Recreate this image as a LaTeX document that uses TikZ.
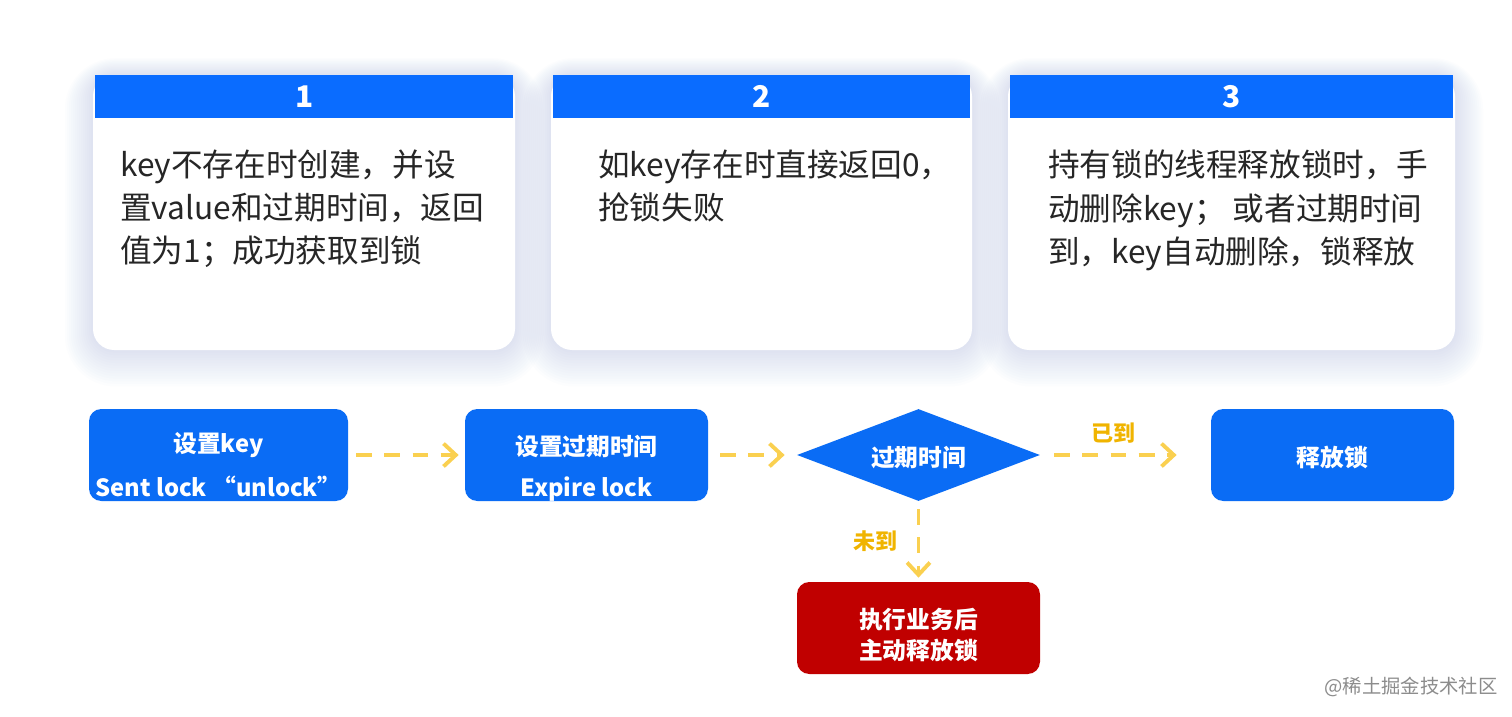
\documentclass[tikz,border=0pt]{standalone}
\usepackage{fontspec}
\setmainfont{Noto Sans CJK SC}
\usetikzlibrary{shapes.geometric,arrows.meta,calc}
\definecolor{hblue}{HTML}{0A6CFF}
\definecolor{bblue}{HTML}{0A6CF5}
\definecolor{dred}{HTML}{C00000}
\definecolor{arr}{HTML}{FAD050}
\definecolor{lab}{HTML}{F0B400}
\definecolor{glow}{HTML}{8FA8E8}
\begin{document}
\begin{tikzpicture}[x=0.02cm,y=-0.02cm,
  hdr/.style={fill=hblue,draw=none,text=white,font=\fontsize{17}{20}\selectfont\bfseries},
  ctext/.style={anchor=north west,align=left,font=\fontsize{18}{24.5}\selectfont,text=black!85},
  fbox/.style={fill=bblue,draw=none,rounded corners=7pt,text=white,align=center,inner sep=0pt,font=\fontsize{13.5}{24.5}\selectfont\bfseries},
  flow/.style={arr,line width=2.2pt,dash pattern=on 9pt off 7pt,-{Straight Barb[length=7pt,width=13pt,line width=2.2pt]}},
  ylab/.style={text=lab,font=\fontsize{12.5}{14}\selectfont\bfseries}]
\useasboundingbox (0,0) rectangle (1512,717);
\fill[white] (0,0) rectangle (1512,717);
% glow shadows
\foreach \xa/\xb in {93/515,551/972,1008/1455}{
  \foreach \g in {1,...,14}{
    \fill[glow,opacity=0.018,rounded corners=12pt+\g*1.2pt] (\xa-\g*2,75-\g*1.2) rectangle (\xb+\g*2,350+\g*2.6);
  }
}
% cards
\foreach \xa/\xb in {93/515,551/972,1008/1455}{
  \fill[white,rounded corners=12pt] (\xa,75) rectangle (\xb,350);
}
\node[hdr,minimum width=418*0.02cm,minimum height=43*0.02cm,anchor=north west] (h1) at (95,75) {1};
\node[hdr,minimum width=417*0.02cm,minimum height=43*0.02cm,anchor=north west] (h2) at (553,75) {2};
\node[hdr,minimum width=443*0.02cm,minimum height=43*0.02cm,anchor=north west] (h3) at (1010,75) {3};
\node[ctext] (t1) at (114,144) {key不存在时创建，并设\\置value和过期时间，返回\\值为1；成功获取到锁};
\node[ctext] (t2) at (592,144) {如key存在时直接返回0，\\抢锁失败};
\node[ctext] (t3) at (1042,144) {持有锁的线程释放锁时，手\\动删除key； 或者过期时间\\到，key自动删除，锁释放};
% flow
\node[fbox,minimum width=259*0.02cm,minimum height=92*0.02cm] (b1) at (218.5,455) {\raisebox{-23.5pt}[0pt][0pt]{\shortstack{设置key\\[7.5pt]Sent lock “unlock”}}};
\node[fbox,minimum width=243*0.02cm,minimum height=92*0.02cm] (b2) at (586.5,455) {\raisebox{-23.5pt}[0pt][0pt]{\shortstack{设置过期时间\\[7.5pt]Expire lock}}};
\node[diamond,fill=bblue,draw=none,aspect=2.64,minimum width=243*0.02cm,minimum height=92*0.02cm,inner sep=0pt,text=white,font=\fontsize{13.5}{16}\selectfont\bfseries] (d) at (918.5,455) {\raisebox{-6.5pt}[0pt][0pt]{过期时间}};
\node[fbox,minimum width=243*0.02cm,minimum height=92*0.02cm] (b4) at (1332.5,455) {\raisebox{-6.5pt}[0pt][0pt]{释放锁}};
\node[fbox,fill=dred,minimum width=243*0.02cm,minimum height=92*0.02cm] (r) at (918.5,628) {\raisebox{-18pt}[0pt][0pt]{\shortstack{执行业务后\\[1.5pt]主动释放锁}}};
\draw[flow] ($(b1.east)+(8,0)$) -- ($(b2.west)+(-6,0)$);
\draw[flow] ($(b2.east)+(12,0)$) -- ($(d.west)+(-12,0)$);
\draw[flow] ($(d.east)+(14,0)$) -- ($(b4.west)+(-34,0)$);
\draw[flow] ($(d.south)+(0,8)$) -- ($(r.north)+(0,-4)$);
\node[ylab] (l1) at (1113,433) {已到};
\node[ylab] (l2) at (875,541) {未到};
\node[text=black!45,font=\fontsize{11}{13}\selectfont] (wm) at (1411,687) {@稀土掘金技术社区};
\end{tikzpicture}
\end{document}
